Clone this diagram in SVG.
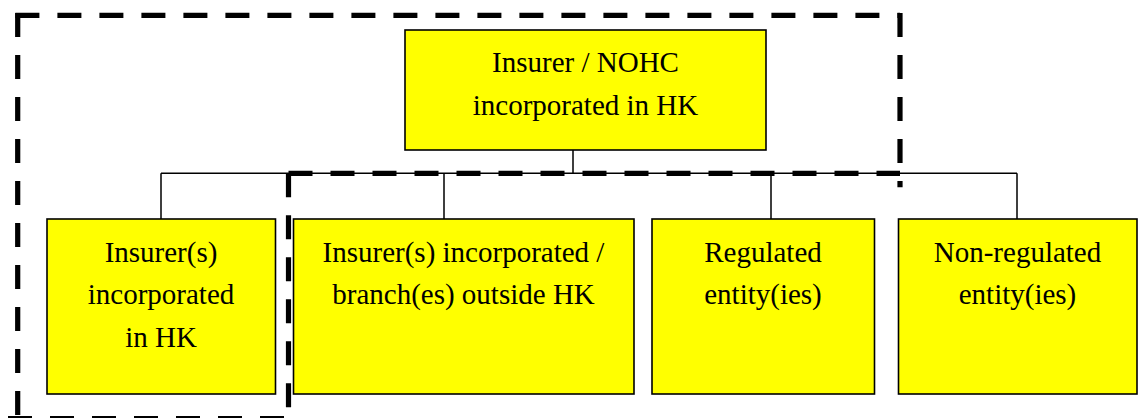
<svg xmlns="http://www.w3.org/2000/svg" width="1146" height="418" viewBox="0 0 1146 418">
<style>
.box{fill:#ffff00;stroke:#000;stroke-width:1.6}
.t{font-family:"Liberation Serif","Times New Roman",serif;font-size:29px;fill:#000;text-anchor:middle}
.c{fill:none;stroke:#000;stroke-width:1.5}
.d{fill:none;stroke:#000;stroke-width:5.2;stroke-dasharray:24 18}
</style>
<rect width="1146" height="418" fill="#fff"/>
<g id="connectors">
<path class="c" d="M573,150 V173.3 M161,173.3 H1017 M161,173.3 V219 M444,173.3 V219 M771,173.3 V219 M1017,173.3 V219"/>
</g>
<g id="boundary">
<path class="d" d="M15.4,15.3 H900"/>
<path class="d" d="M17.7,13 V418"/>
<path class="d" d="M900,13 V187.3"/>
<path class="d" d="M288.5,173.3 H900"/>
<path class="d" d="M288.5,173.3 V418"/>
<path class="d" d="M8,418.5 H290"/>
</g>
<g id="top">
<rect class="box" x="405" y="30" width="361" height="120"/>
<text class="t" x="585.5" y="72">Insurer / NOHC</text>
<text class="t" x="585.5" y="115">incorporated in HK</text>
</g>
<g id="insurer-hk">
<rect class="box" x="47" y="219" width="228.5" height="175"/>
<text class="t" x="161" y="262">Insurer(s)</text>
<text class="t" x="161" y="304">incorporated</text>
<text class="t" x="161" y="347">in HK</text>
</g>
<g id="insurer-outside">
<rect class="box" x="293.5" y="219" width="340.5" height="175"/>
<text class="t" x="463.5" y="262">Insurer(s) incorporated /</text>
<text class="t" x="463.5" y="304">branch(es) outside HK</text>
</g>
<g id="regulated">
<rect class="box" x="652" y="219" width="222.5" height="175"/>
<text class="t" x="763" y="262">Regulated</text>
<text class="t" x="763" y="304">entity(ies)</text>
</g>
<g id="non-regulated">
<rect class="box" x="898.5" y="219" width="238.5" height="175"/>
<text class="t" x="1017.5" y="262">Non-regulated</text>
<text class="t" x="1017.5" y="304">entity(ies)</text>
</g>
</svg>
